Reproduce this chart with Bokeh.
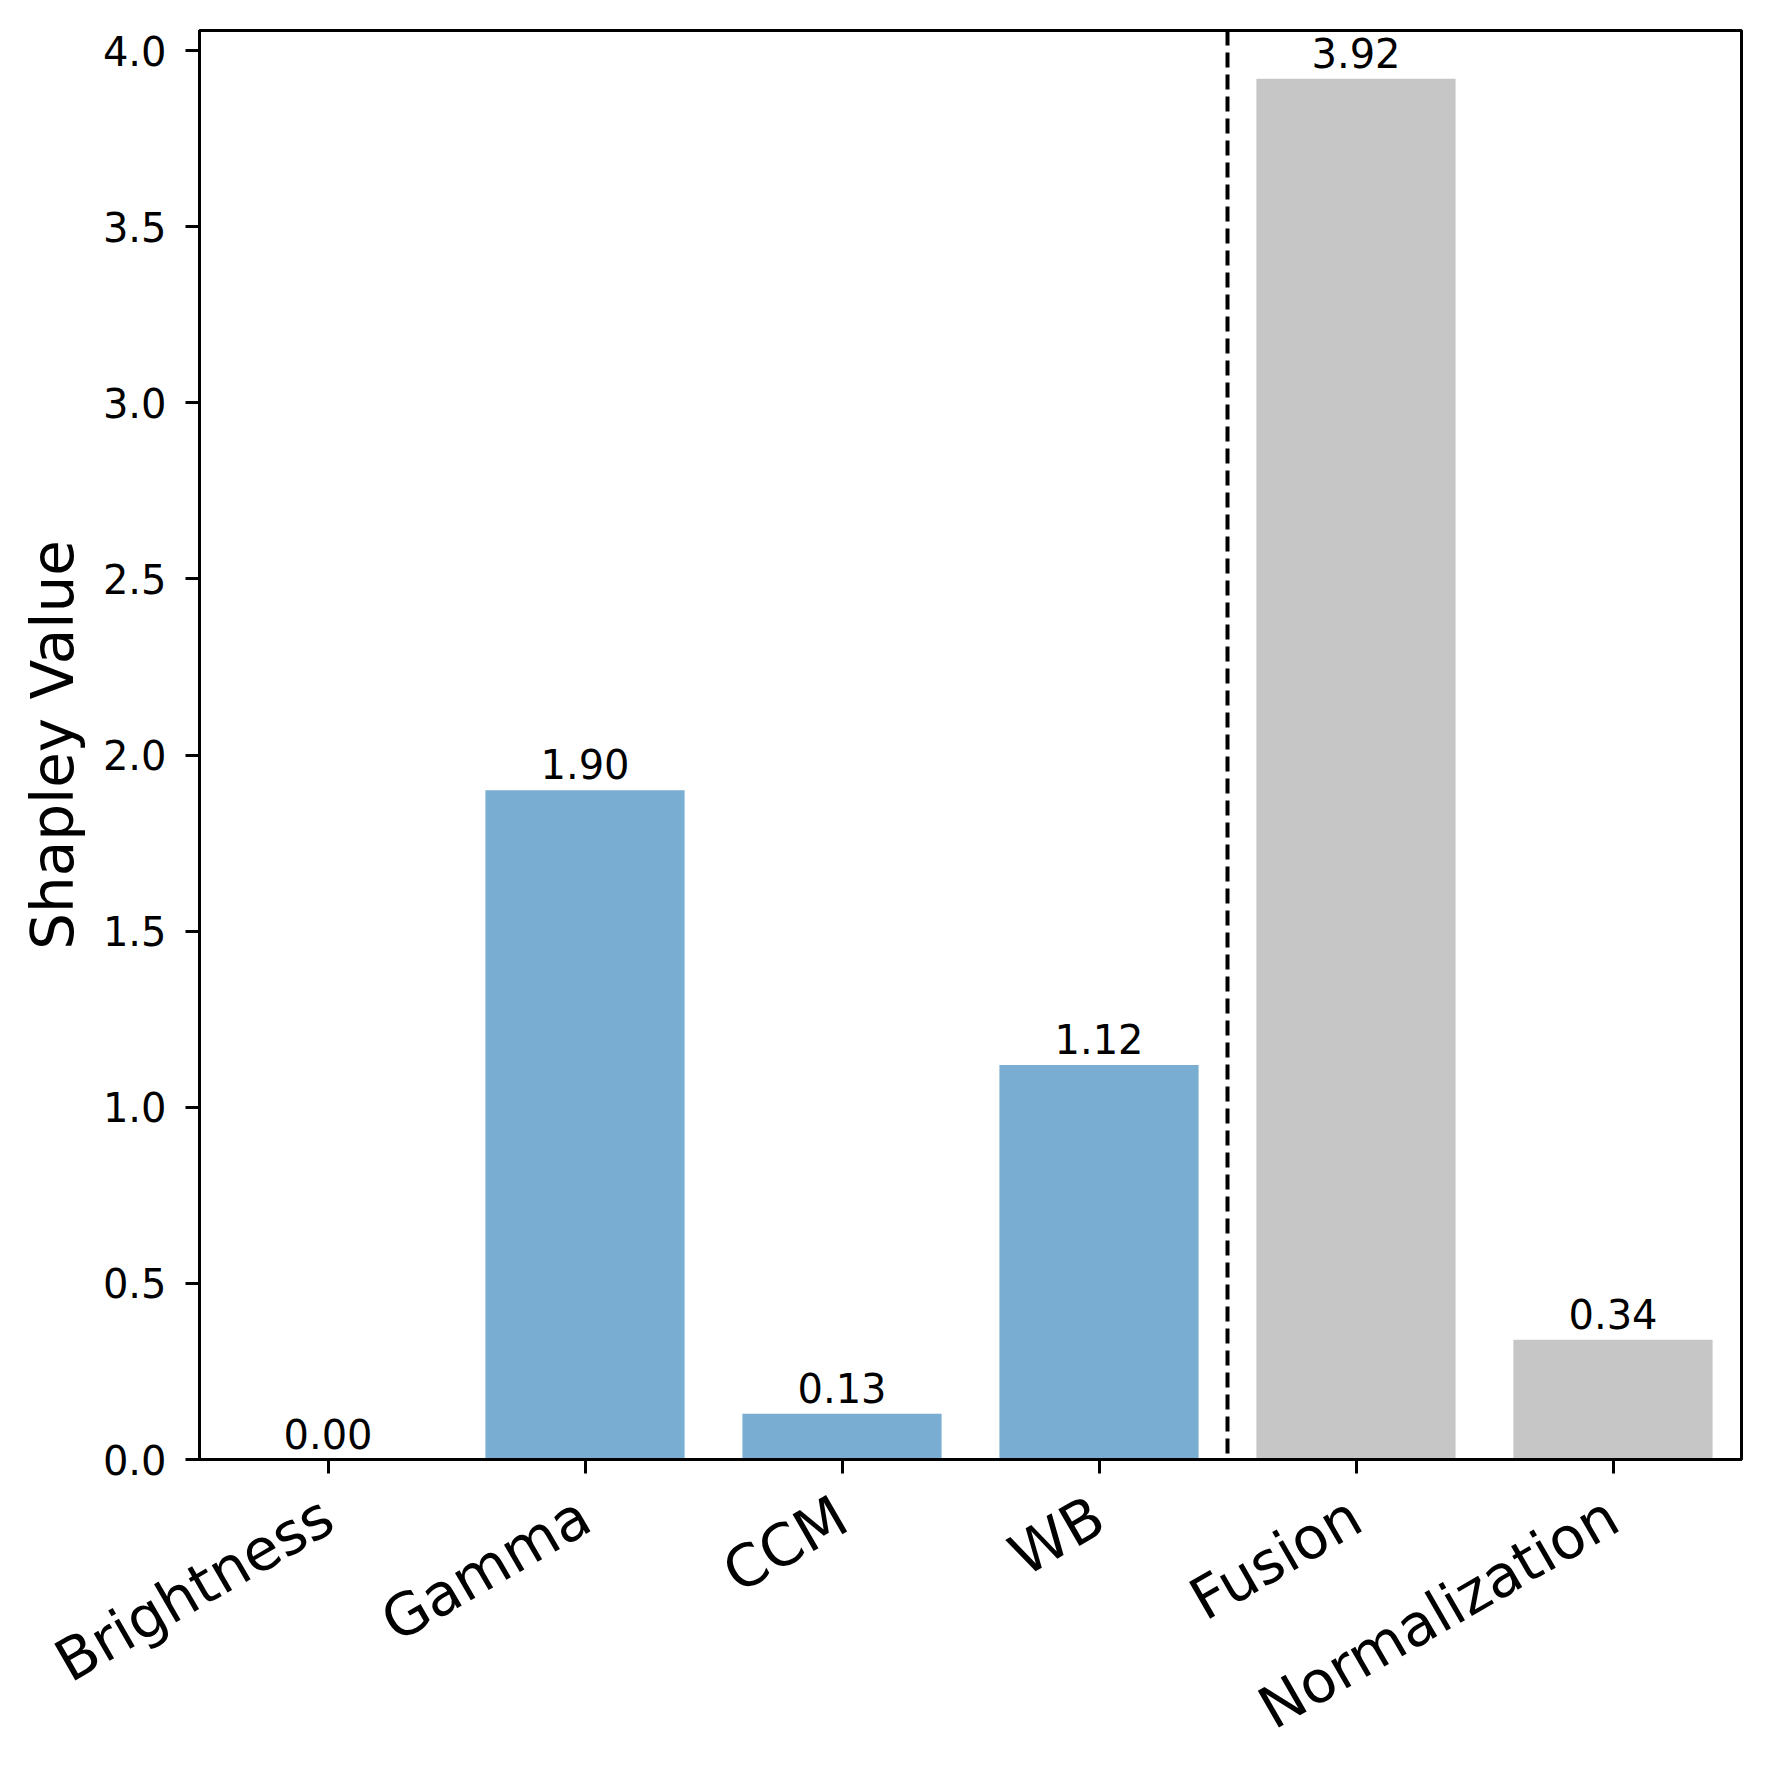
import math
from bokeh.plotting import figure
from bokeh.models import ColumnDataSource, Span, FixedTicker, PrintfTickFormatter, FactorRange, Range1d
from bokeh.core.properties import value
from bokeh.embed import file_html
from bokeh.resources import INLINE

categories = ["Brightness", "Gamma", "CCM", "WB", "Fusion", "Normalization"]
shapley = [0.00, 1.90, 0.13, 1.12, 3.92, 0.34]
bar_colors = ["#79add2", "#79add2", "#79add2", "#79add2", "#c6c6c6", "#c6c6c6"]
y_ticks = [0.0, 0.5, 1.0, 1.5, 2.0, 2.5, 3.0, 3.5, 4.0]
labels = ["%.2f" % v for v in shapley]

FONT = "DejaVu Sans"

src = ColumnDataSource(dict(cat=categories, val=shapley, color=bar_colors, lab=labels))

p = figure(
    x_range=FactorRange(*categories, range_padding=0.0),
    y_range=Range1d(0, 4.057),
    frame_width=1542, frame_height=1429,
    min_border_left=199, min_border_right=21, min_border_top=30, min_border_bottom=290,
    output_backend="svg", toolbar_location=None,
)
p.background_fill_color = "white"
p.border_fill_color = "white"
p.grid.visible = False
p.outline_line_color = "black"
p.outline_line_width = 3
p.outline_line_alpha = 1.0

p.vbar(x="cat", top="val", width=0.775, color="color", line_color=None, source=src)

p.text(x="cat", y="val", text="lab", source=src, text_align="center",
       text_baseline="alphabetic", y_offset=-26, text_font=value(FONT),
       text_font_size="40px", text_color="black")

# divider between groups (between WB and Fusion)
p.add_layout(Span(location=4.0, dimension="height", line_color="black",
                  line_width=4, line_dash="15 7"))

for ax in (p.xaxis[0], p.yaxis[0]):
    ax.axis_line_color = "black"
    ax.axis_line_width = 3
    ax.major_tick_line_color = "black"
    ax.major_tick_line_width = 3
    ax.major_tick_out = 14
    ax.major_tick_in = 0
    ax.minor_tick_line_color = None
    ax.major_label_text_color = "black"
    ax.major_label_text_font = FONT

p.yaxis.ticker = FixedTicker(ticks=y_ticks)
p.yaxis.formatter = PrintfTickFormatter(format="%.1f")
p.yaxis.major_label_text_font_size = "40px"
p.yaxis.major_label_standoff = 19
p.yaxis.axis_label = "Shapley Value"
p.yaxis.axis_label_text_font = FONT
p.yaxis.axis_label_text_font_size = "58px"
p.yaxis.axis_label_text_font_style = "normal"
p.yaxis.axis_label_text_color = "black"
p.yaxis.axis_label_standoff = 13

p.xaxis.major_label_text_font_size = "58px"
p.xaxis.major_label_orientation = math.pi / 6
p.xaxis.major_label_standoff = 38
p.xaxis.group_text_font_size = "0px"

open("out.html", "w").write(file_html(p, INLINE))
